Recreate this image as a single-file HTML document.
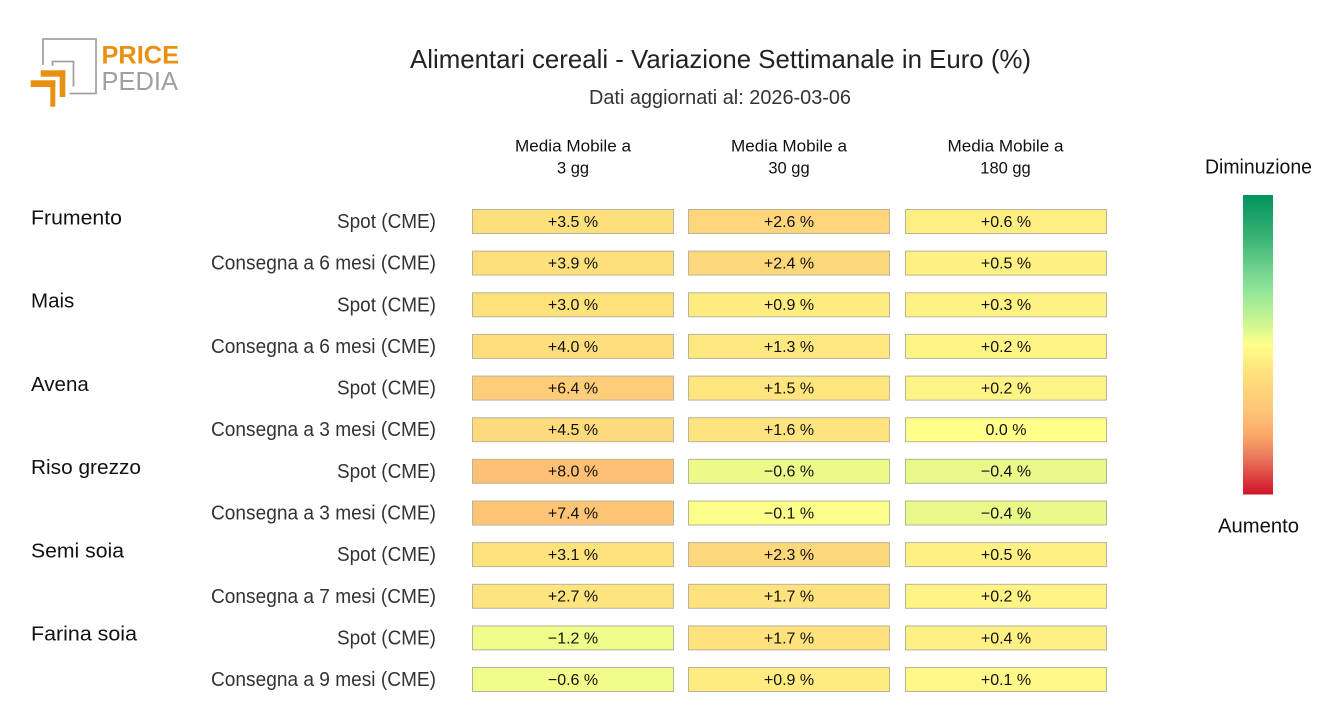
<!DOCTYPE html>
<html><head><meta charset="utf-8"><style>
html,body{margin:0;padding:0;background:#fff;}
svg{display:block;}
text{font-family:"Liberation Sans",sans-serif;}
</style></head><body>
<svg width="1320" height="720" viewBox="0 0 1320 720" xmlns="http://www.w3.org/2000/svg">
<defs>
<linearGradient id="cb" x1="0" y1="0" x2="0" y2="1">
<stop offset="0" stop-color="#00935e"/>
<stop offset="0.15" stop-color="#3cb577"/>
<stop offset="0.25" stop-color="#72d38e"/>
<stop offset="0.33" stop-color="#96e898"/>
<stop offset="0.42" stop-color="#c8f590"/>
<stop offset="0.5" stop-color="#ffff8a"/>
<stop offset="0.6" stop-color="#fee07c"/>
<stop offset="0.72" stop-color="#fdc577"/>
<stop offset="0.8" stop-color="#fca96a"/>
<stop offset="0.88" stop-color="#e9755a"/>
<stop offset="1" stop-color="#cf1229"/>
</linearGradient>
</defs>

<!-- Logo -->
<g fill="none" stroke="#a3a3a3" stroke-width="1.8">
<path d="M43 65 V39 H96 V93.5 H69.5"/>
<path d="M52.5 66 V61.5 H73.5 V86.5"/>
</g>
<g fill="#e8900f">
<rect x="40.7" y="70.3" width="24.6" height="6.4"/>
<rect x="59.7" y="70.3" width="5.6" height="26.7"/>
<rect x="30.7" y="80.3" width="24.6" height="6.7"/>
<rect x="50.3" y="80.3" width="5" height="26.4"/>
</g>
<text x="101.5" y="63.5" font-size="25" font-weight="bold" fill="#e8900f" textLength="77.5" lengthAdjust="spacingAndGlyphs">PRICE</text>
<text x="101.5" y="90" font-size="25.5" fill="#a0a0a0" textLength="76.5" lengthAdjust="spacingAndGlyphs" style="font-weight:300">PEDIA</text>

<!-- Titles -->
<text x="720.5" y="68" font-size="26" fill="#222" text-anchor="middle" textLength="621" lengthAdjust="spacingAndGlyphs">Alimentari cereali - Variazione Settimanale in Euro (%)</text>
<text x="720" y="104" font-size="20" fill="#333" text-anchor="middle" textLength="262" lengthAdjust="spacingAndGlyphs">Dati aggiornati al: 2026-03-06</text>

<!-- Column headers -->
<g font-size="16.5" fill="#111" text-anchor="middle">
<text x="573" y="151.7" textLength="116" lengthAdjust="spacingAndGlyphs">Media Mobile a</text>
<text x="573" y="173.3">3 gg</text>
<text x="789" y="151.7" textLength="116" lengthAdjust="spacingAndGlyphs">Media Mobile a</text>
<text x="789" y="173.3">30 gg</text>
<text x="1005.5" y="151.7" textLength="116" lengthAdjust="spacingAndGlyphs">Media Mobile a</text>
<text x="1005.5" y="173.3">180 gg</text>
</g>

<!-- Category labels -->
<g font-size="20.5" fill="#111">
<text x="31" y="224.3" textLength="91" lengthAdjust="spacingAndGlyphs">Frumento</text>
<text x="31" y="307.6">Mais</text>
<text x="31" y="390.9">Avena</text>
<text x="31" y="474.1" textLength="110" lengthAdjust="spacingAndGlyphs">Riso grezzo</text>
<text x="31" y="557.4" textLength="93" lengthAdjust="spacingAndGlyphs">Semi soia</text>
<text x="31" y="640.7" textLength="106" lengthAdjust="spacingAndGlyphs">Farina soia</text>
</g>

<!-- Row labels -->
<g font-size="20" fill="#333" text-anchor="end" style="font-weight:300">
<text x="436" y="228" textLength="99" lengthAdjust="spacingAndGlyphs">Spot (CME)</text>
<text x="436" y="269.6" textLength="225" lengthAdjust="spacingAndGlyphs">Consegna a 6 mesi (CME)</text>
<text x="436" y="311.3" textLength="99" lengthAdjust="spacingAndGlyphs">Spot (CME)</text>
<text x="436" y="352.9" textLength="225" lengthAdjust="spacingAndGlyphs">Consegna a 6 mesi (CME)</text>
<text x="436" y="394.6" textLength="99" lengthAdjust="spacingAndGlyphs">Spot (CME)</text>
<text x="436" y="436.2" textLength="225" lengthAdjust="spacingAndGlyphs">Consegna a 3 mesi (CME)</text>
<text x="436" y="477.8" textLength="99" lengthAdjust="spacingAndGlyphs">Spot (CME)</text>
<text x="436" y="519.5" textLength="225" lengthAdjust="spacingAndGlyphs">Consegna a 3 mesi (CME)</text>
<text x="436" y="561.1" textLength="99" lengthAdjust="spacingAndGlyphs">Spot (CME)</text>
<text x="436" y="602.8" textLength="225" lengthAdjust="spacingAndGlyphs">Consegna a 7 mesi (CME)</text>
<text x="436" y="644.4" textLength="99" lengthAdjust="spacingAndGlyphs">Spot (CME)</text>
<text x="436" y="686" textLength="225" lengthAdjust="spacingAndGlyphs">Consegna a 9 mesi (CME)</text>
</g>

<!-- Cells -->
<g stroke="#bab39c" stroke-width="1">
<rect x="472.5" y="209.5" width="201" height="24" fill="#fde07c"/>
<rect x="472.5" y="251.1" width="201" height="24" fill="#fddf7c"/>
<rect x="472.5" y="292.8" width="201" height="24" fill="#fde27c"/>
<rect x="472.5" y="334.4" width="201" height="24" fill="#fddd7c"/>
<rect x="472.5" y="376.1" width="201" height="24" fill="#fdcd7a"/>
<rect x="472.5" y="417.7" width="201" height="24" fill="#fdda7c"/>
<rect x="472.5" y="459.3" width="201" height="24" fill="#fdc074"/>
<rect x="472.5" y="501.0" width="201" height="24" fill="#fdc476"/>
<rect x="472.5" y="542.6" width="201" height="24" fill="#fde27c"/>
<rect x="472.5" y="584.3" width="201" height="24" fill="#fde47e"/>
<rect x="472.5" y="625.9" width="201" height="24" fill="#eefc8a"/>
<rect x="472.5" y="667.5" width="201" height="24" fill="#f2fc8a"/>
<rect x="688.5" y="209.5" width="201" height="24" fill="#fdd57a"/>
<rect x="688.5" y="251.1" width="201" height="24" fill="#fdd87a"/>
<rect x="688.5" y="292.8" width="201" height="24" fill="#feec80"/>
<rect x="688.5" y="334.4" width="201" height="24" fill="#fee880"/>
<rect x="688.5" y="376.1" width="201" height="24" fill="#fee57e"/>
<rect x="688.5" y="417.7" width="201" height="24" fill="#fee47e"/>
<rect x="688.5" y="459.3" width="201" height="24" fill="#ecfa8a"/>
<rect x="688.5" y="501.0" width="201" height="24" fill="#fcfe8a"/>
<rect x="688.5" y="542.6" width="201" height="24" fill="#fdd87a"/>
<rect x="688.5" y="584.3" width="201" height="24" fill="#fee27e"/>
<rect x="688.5" y="625.9" width="201" height="24" fill="#fee27e"/>
<rect x="688.5" y="667.5" width="201" height="24" fill="#feec80"/>
<rect x="905.5" y="209.5" width="201" height="24" fill="#feee82"/>
<rect x="905.5" y="251.1" width="201" height="24" fill="#fef082"/>
<rect x="905.5" y="292.8" width="201" height="24" fill="#fef284"/>
<rect x="905.5" y="334.4" width="201" height="24" fill="#fef486"/>
<rect x="905.5" y="376.1" width="201" height="24" fill="#fef486"/>
<rect x="905.5" y="417.7" width="201" height="24" fill="#ffff8a"/>
<rect x="905.5" y="459.3" width="201" height="24" fill="#e8f98a"/>
<rect x="905.5" y="501.0" width="201" height="24" fill="#e8f98a"/>
<rect x="905.5" y="542.6" width="201" height="24" fill="#fef082"/>
<rect x="905.5" y="584.3" width="201" height="24" fill="#fef486"/>
<rect x="905.5" y="625.9" width="201" height="24" fill="#fef084"/>
<rect x="905.5" y="667.5" width="201" height="24" fill="#fef888"/>
</g>

<!-- Cell text -->
<g font-size="16" fill="#111" text-anchor="middle">
<text x="573" y="226.9">+3.5 %</text>
<text x="573" y="268.5">+3.9 %</text>
<text x="573" y="310.2">+3.0 %</text>
<text x="573" y="351.8">+4.0 %</text>
<text x="573" y="393.5">+6.4 %</text>
<text x="573" y="435.1">+4.5 %</text>
<text x="573" y="476.7">+8.0 %</text>
<text x="573" y="518.4">+7.4 %</text>
<text x="573" y="560.0">+3.1 %</text>
<text x="573" y="601.7">+2.7 %</text>
<text x="573" y="643.3">−1.2 %</text>
<text x="573" y="684.9">−0.6 %</text>

<text x="789" y="226.9">+2.6 %</text>
<text x="789" y="268.5">+2.4 %</text>
<text x="789" y="310.2">+0.9 %</text>
<text x="789" y="351.8">+1.3 %</text>
<text x="789" y="393.5">+1.5 %</text>
<text x="789" y="435.1">+1.6 %</text>
<text x="789" y="476.7">−0.6 %</text>
<text x="789" y="518.4">−0.1 %</text>
<text x="789" y="560.0">+2.3 %</text>
<text x="789" y="601.7">+1.7 %</text>
<text x="789" y="643.3">+1.7 %</text>
<text x="789" y="684.9">+0.9 %</text>

<text x="1006" y="226.9">+0.6 %</text>
<text x="1006" y="268.5">+0.5 %</text>
<text x="1006" y="310.2">+0.3 %</text>
<text x="1006" y="351.8">+0.2 %</text>
<text x="1006" y="393.5">+0.2 %</text>
<text x="1006" y="435.1">0.0 %</text>
<text x="1006" y="476.7">−0.4 %</text>
<text x="1006" y="518.4">−0.4 %</text>
<text x="1006" y="560.0">+0.5 %</text>
<text x="1006" y="601.7">+0.2 %</text>
<text x="1006" y="643.3">+0.4 %</text>
<text x="1006" y="684.9">+0.1 %</text>
</g>

<!-- Colorbar -->
<text x="1258.5" y="173.3" font-size="20" fill="#111" text-anchor="middle" textLength="107" lengthAdjust="spacingAndGlyphs">Diminuzione</text>
<rect x="1243" y="195" width="30" height="299.5" fill="url(#cb)"/>
<text x="1258.5" y="532.7" font-size="20" fill="#111" text-anchor="middle" textLength="81" lengthAdjust="spacingAndGlyphs">Aumento</text>
</svg>
</body></html>
